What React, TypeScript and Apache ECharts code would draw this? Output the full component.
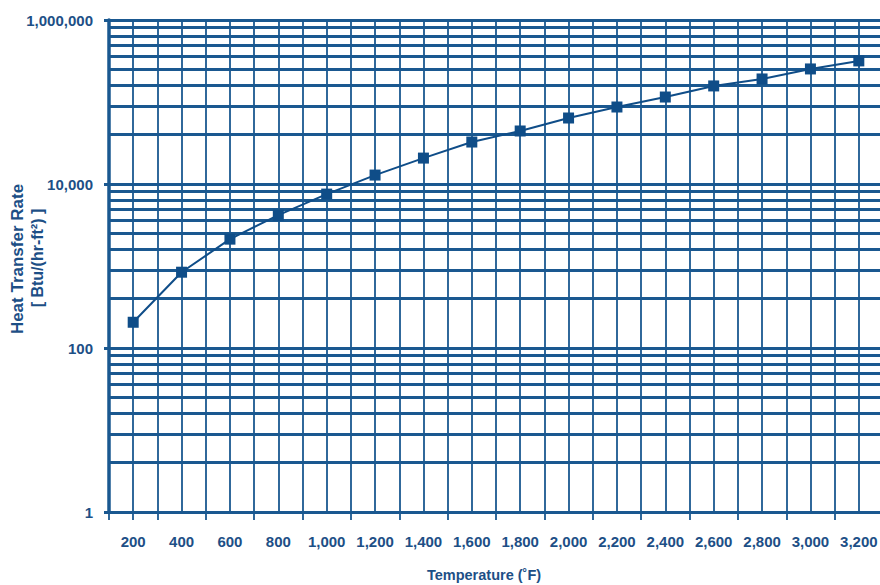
import React, { useEffect, useRef } from "react";
import * as echarts from "echarts";

const temperatures = [200, 400, 600, 800, 1000, 1200, 1400, 1600, 1800, 2000, 2200, 2400, 2600, 2800, 3000, 3200];
const heatTransferRates = [206, 840, 2125, 4170, 7530, 12850, 20700, 32500, 44300, 63800, 86900, 115000, 157000, 191000, 253000, 317000];
const xLabelValues = [200, 400, 600, 800, 1000, 1200, 1400, 1600, 1800, 2000, 2200, 2400, 2600, 2800, 3000, 3200];
const xTickValues = [100, 200, 300, 500, 700, 900, 1100, 1300, 1500, 1700, 1900, 2100, 2300, 2500, 2700, 2900, 3100];
const yCycleStarts = [1, 100, 10000];
const cycleDivisions = [2, 3, 4, 5, 6, 7, 8, 9];

const FONT = "'Liberation Sans', Arial, sans-serif";
const GRID_COLOR = "#1a5890";
const TEXT_COLOR = "#1d4f86";
const SERIES_COLOR = "#0f4d88";

export default function App() {
  const ref = useRef<HTMLDivElement>(null);

  useEffect(() => {
    if (!ref.current) return;
    const chart = echarts.init(ref.current, null, { renderer: "svg" });

    const minorLines: { yAxis: number }[] = [];
    yCycleStarts.forEach((s) => {
      cycleDivisions.forEach((k) => {
        minorLines.push({ yAxis: s * k * k });
      });
    });

    const fmt = (v: number) => Math.round(v).toLocaleString("en-US");

    chart.setOption({
      animation: false,
      backgroundColor: "#ffffff",
      grid: {
        left: 109,
        right: -3,
        top: 20,
        bottom: 73,
        containLabel: false,
        outerBoundsMode: "none",
      },
      xAxis: [
        {
          type: "value",
          min: 100,
          max: 3300,
          interval: 100,
          name: "Temperature (˚F)",
          nameLocation: "middle",
          nameGap: 55,
          nameTextStyle: {
            color: TEXT_COLOR,
            fontFamily: FONT,
            fontWeight: "bold",
            fontSize: 14.5,
            padding: [0, 24, 0, 0],
          },
          axisLine: { show: true, lineStyle: { color: GRID_COLOR, width: 3 } },
          axisTick: { show: false },
          axisLabel: {
            customValues: xLabelValues,
            formatter: (v: number) => fmt(v),
            color: TEXT_COLOR,
            fontFamily: FONT,
            fontWeight: "bold",
            fontSize: 15,
            margin: 22,
          },
          splitLine: { show: true, lineStyle: { color: GRID_COLOR, width: 1.8 } },
        },
        {
          type: "value",
          position: "bottom",
          min: 100,
          max: 3300,
          interval: 100,
          axisLine: { show: false },
          axisTick: {
            show: true,
            length: 8,
            customValues: xTickValues,
            lineStyle: { color: GRID_COLOR, width: 1.8 },
          },
          axisLabel: { show: false },
          splitLine: { show: false },
        },
      ],
      yAxis: {
        type: "log",
        logBase: 100,
        min: 1,
        max: 1000000,
        axisLine: { show: true, onZero: false, lineStyle: { color: GRID_COLOR, width: 3.5 } },
        axisTick: { show: true, length: 5, lineStyle: { color: GRID_COLOR, width: 3 } },
        axisLabel: {
          formatter: (v: number) => fmt(v),
          color: TEXT_COLOR,
          fontFamily: FONT,
          fontWeight: "bold",
          fontSize: 15,
          margin: 16,
        },
        splitLine: { show: true, lineStyle: { color: GRID_COLOR, width: 3 } },
      },
      graphic: [
        {
          type: "text",
          x: 17,
          y: 259,
          rotation: Math.PI / 2,
          style: {
            text: "Heat Transfer Rate",
            fill: TEXT_COLOR,
            font: `bold 17px ${FONT}`,
            textAlign: "center",
            textVerticalAlign: "middle",
          },
        },
        {
          type: "text",
          x: 37,
          y: 258,
          rotation: Math.PI / 2,
          style: {
            text: "[ Btu/(hr-ft²) ]",
            fill: TEXT_COLOR,
            font: `bold 16px ${FONT}`,
            textAlign: "center",
            textVerticalAlign: "middle",
          },
        },
      ],
      series: [
        {
          type: "line",
          data: [],
          z: 1,
          silent: true,
          markLine: {
            silent: true,
            symbol: ["none", "none"],
            label: { show: false },
            lineStyle: { color: GRID_COLOR, width: 3, type: "solid" },
            data: minorLines,
          },
        },
        {
          type: "line",
          z: 5,
          data: temperatures.map((t, i) => [t, heatTransferRates[i]]),
          symbol: "rect",
          symbolSize: 11,
          showSymbol: true,
          lineStyle: { color: SERIES_COLOR, width: 2 },
          itemStyle: { color: SERIES_COLOR },
        },
      ],
    });

    return () => chart.dispose();
  }, []);

  return (
    <div
      ref={ref}
      style={{ position: "fixed", left: 0, top: 0, width: 880, height: 585, background: "#fff" }}
    />
  );
}
